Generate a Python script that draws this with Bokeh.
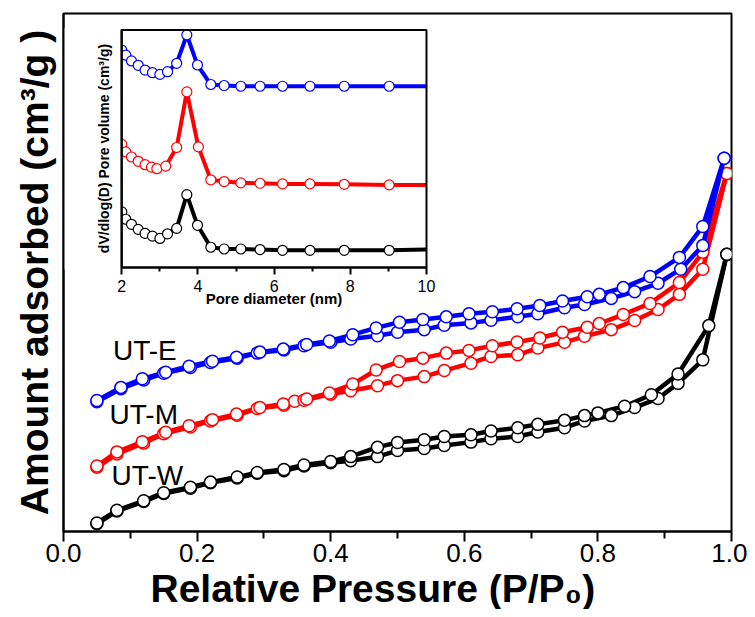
from bokeh.plotting import figure
from bokeh.models import Range1d, LinearAxis, FixedTicker, Label, Title
from bokeh.embed import file_html
from bokeh.resources import INLINE

# ---------------- main isotherm data (relative pressure, amount adsorbed a.u.) -------------
w_ads_p = [0.05, 0.08, 0.12, 0.15, 0.19, 0.22, 0.26, 0.29, 0.33, 0.36, 0.40, 0.43, 0.47, 0.50,
           0.54, 0.57, 0.61, 0.64, 0.68, 0.71, 0.75, 0.78, 0.82, 0.855, 0.89, 0.92, 0.957, 0.993]
w_ads_v = [10.7, 23.3, 32.7, 40.7, 46, 51.3, 56, 60.7, 63.3, 68, 71.3, 73.3, 77.3, 83.3,
           85.3, 88.3, 91.7, 95, 97.3, 101.7, 106, 112.7, 118, 126, 135, 150, 173.3, 278]
w_des_p = [0.993, 0.966, 0.92, 0.88, 0.84, 0.80, 0.78, 0.75, 0.71, 0.68, 0.64, 0.61, 0.57, 0.54,
           0.50, 0.47, 0.43, 0.40, 0.36, 0.33, 0.29, 0.26, 0.22, 0.19, 0.15, 0.12, 0.08, 0.05]
w_des_v = [278, 207.3, 159.3, 138.7, 127.3, 120.7, 118, 113.3, 109.3, 106, 102.7, 99, 97.3, 94,
           91.3, 86.7, 77.3, 72.5, 69, 64.5, 61.5, 57, 52, 47, 41.5, 33.5, 24, 11.5]

m_ads_p = [0.05, 0.08, 0.12, 0.15, 0.19, 0.22, 0.26, 0.29, 0.33, 0.346, 0.36, 0.40, 0.43, 0.47, 0.50,
           0.54, 0.57, 0.61, 0.64, 0.68, 0.71, 0.75, 0.78, 0.82, 0.855, 0.89, 0.922, 0.957, 0.993]
m_ads_v = [66.7, 80, 90.7, 100, 106.7, 112.7, 118.3, 125, 128.3, 132.3, 133.3, 139.3, 142.7, 147.7, 152.7,
           156.7, 162.7, 170, 176.7, 178.3, 185, 190.7, 196.7, 203.3, 212.3, 223.3, 238.3, 263.3, 358.3]
m_des_p = [0.993, 0.957, 0.922, 0.878, 0.838, 0.802, 0.784, 0.747, 0.713, 0.679, 0.642, 0.607, 0.573, 0.538,
           0.503, 0.468, 0.433, 0.398, 0.364, 0.329, 0.294, 0.259, 0.223, 0.188, 0.153, 0.118, 0.08, 0.05]
m_des_v = [358.3, 280, 250, 229.3, 218.3, 209.3, 205.7, 200.7, 195, 191, 187.3, 182.7, 180, 175,
           171.7, 163.3, 149.3, 140.5, 134.5, 129.5, 126, 119.5, 114, 108, 101.5, 92, 82, 68]

e_ads_p = [0.05, 0.086, 0.12, 0.15, 0.19, 0.22, 0.26, 0.29, 0.33, 0.36, 0.40, 0.43, 0.47, 0.50,
           0.54, 0.57, 0.61, 0.64, 0.68, 0.71, 0.75, 0.78, 0.82, 0.855, 0.89, 0.924, 0.957, 0.989]
e_ads_v = [131.7, 144.7, 153.3, 160, 165.7, 170.7, 175, 180, 183, 187.3, 190.7, 194, 197.3, 200.7,
           203.3, 207.7, 210, 212.7, 216, 219, 225, 228.3, 234.3, 241, 249.3, 263.3, 286.7, 373.3]
e_des_p = [0.989, 0.957, 0.922, 0.878, 0.838, 0.802, 0.784, 0.747, 0.713, 0.679, 0.642, 0.607, 0.573, 0.538,
           0.503, 0.468, 0.433, 0.398, 0.364, 0.329, 0.294, 0.259, 0.223, 0.188, 0.153, 0.118, 0.086, 0.05]
e_des_v = [373.3, 305.7, 275, 256, 245, 238.3, 236, 231.7, 227.3, 224, 221, 219, 216, 213.3,
           210.7, 205, 198.3, 192, 188.5, 184, 181, 176, 172, 167, 161, 154.5, 146, 133]

sample_names = ["UT-W", "UT-M", "UT-E"]
sample_colors = ["black", "red", "blue"]
label_p = [0.072, 0.069, 0.074]
label_v = [59, 119, 182.5]

x_ticks = [0.0, 0.2, 0.4, 0.6, 0.8, 1.0]
x_tick_labels = ["0.0", "0.2", "0.4", "0.6", "0.8", "1.0"]
x_minor = [0.1, 0.3, 0.5, 0.7, 0.9]

# ---------------- inset pore size distribution -------------
d_we = [2.0, 2.105, 2.254, 2.43, 2.61, 2.805, 3.0, 3.2, 3.44, 3.707, 3.987, 4.337, 4.687, 5.125,
        5.63, 6.22, 6.94, 7.84, 9.02, 10.0]
d_m = [2.0, 2.105, 2.254, 2.43, 2.61, 2.78, 2.92, 3.155, 3.44, 3.707, 4.01, 4.337, 4.687, 5.125,
       5.63, 6.22, 6.94, 7.84, 9.02, 10.0]
psd_e = [215, 210, 204.3, 200, 195.3, 192.7, 191, 193.7, 202, 230, 200.3, 181, 180, 179.3,
         179.3, 179.3, 179.3, 179.3, 179.3, 179.3]
psd_m = [121.7, 114.3, 109.3, 105, 101.7, 99.3, 97.7, 100.3, 118.7, 173.7, 119.3, 86.7, 85, 83.7,
         83.3, 82.7, 82.7, 82.3, 81.7, 81.7]
psd_w = [55, 47.7, 42.7, 37.7, 33.7, 31, 28.7, 33.3, 38.7, 72, 41.7, 20, 18.3, 18.3,
         17.7, 17, 17, 17, 17, 17.7]
inset_ticks = [2, 4, 6, 8, 10]
inset_minor = [3, 5, 7, 9]
inset_x = (2, 10)
inset_y = (0, 235)

FONT = "Liberation Sans"

p = figure(width=747, height=609, output_backend="svg", toolbar_location=None,
           x_range=Range1d(0, 1), y_range=Range1d(3, 517),
           min_border_left=63, min_border_right=16, min_border_top=13, min_border_bottom=10)
p.background_fill_color = "white"
p.border_fill_color = "white"
p.outline_line_color = "black"
p.outline_line_width = 2
p.grid.visible = False

# main axes
xa = p.xaxis[0]
xa.ticker = FixedTicker(ticks=x_ticks, minor_ticks=x_minor)
xa.major_label_overrides = {t: s for t, s in zip(x_ticks, x_tick_labels)}
xa.axis_line_width = 2
xa.major_tick_line_width = 2
xa.minor_tick_line_width = 2
xa.major_tick_in = 0
xa.major_tick_out = 10
xa.minor_tick_in = 0
xa.minor_tick_out = 7
xa.major_label_text_font = FONT
xa.major_label_text_font_size = "26px"
xa.major_label_text_color = "black"
xa.major_label_standoff = 2

p.add_layout(Title(text="Relative Pressure (P/P\u2080)", align="left", offset=87, standoff=0,
                   text_font=FONT, text_font_style="bold", text_font_size="39px",
                   text_color="black"), "below")

ya = p.yaxis[0]
ya.ticker = FixedTicker(ticks=[])
ya.axis_line_width = 2
ya.major_tick_out = 0
ya.minor_tick_out = 0
ya.major_label_text_font_size = "0px"
ya.axis_label = "Amount adsorbed (cm\u00b3/g )"
ya.axis_label_text_font = FONT
ya.axis_label_text_font_style = "bold"
ya.axis_label_text_font_size = "39px"
ya.axis_label_text_color = "black"
ya.axis_label_standoff = 8

# isotherms
series = [(w_ads_p, w_ads_v, w_des_p, w_des_v), (m_ads_p, m_ads_v, m_des_p, m_des_v),
          (e_ads_p, e_ads_v, e_des_p, e_des_v)]
for (ap, av, dp, dv), col in zip(series, sample_colors):
    p.line(ap, av, line_color=col, line_width=4.5)
    p.line(dp, dv, line_color=col, line_width=4.5)
    p.scatter(ap, av, size=12, marker="circle", fill_color="white", line_color=col, line_width=1.5)
    p.scatter(dp, dv, size=12, marker="circle", fill_color="white", line_color=col, line_width=1.5)

for name, lx, ly in zip(sample_names, label_p, label_v):
    p.add_layout(Label(x=lx, y=ly, text=name, text_font=FONT, text_font_size="28px",
                       text_color="black", text_align="left", text_baseline="middle"))

# ---------------- inset placed inside the main frame -------------
fx0, fx1 = 0.0873, 0.5434      # fraction of frame width
fy0, fy1 = 0.5097, 0.9683      # fraction of frame height
span_x = (inset_x[1] - inset_x[0]) / (fx1 - fx0)
span_y = (inset_y[1] - inset_y[0]) / (fy1 - fy0)
ixs = inset_x[0] - fx0 * span_x
iys = inset_y[0] - fy0 * span_y
p.extra_x_ranges = {"ix": Range1d(ixs, ixs + span_x)}
p.extra_y_ranges = {"iy": Range1d(iys, iys + span_y)}

psd = [(d_we, psd_w, "black"), (d_m, psd_m, "red"), (d_we, psd_e, "blue")]
for dx, dy, col in psd:
    p.line(dx, dy, line_color=col, line_width=4, x_range_name="ix", y_range_name="iy")
    p.scatter(dx[:-1], dy[:-1], size=10, marker="circle", fill_color="white", line_color=col,
              line_width=1.2, x_range_name="ix", y_range_name="iy")

# mask half markers left of inset frame
p.quad(left=ixs, right=inset_x[0], bottom=inset_y[0] - 2, top=inset_y[1] + 2,
       fill_color="white", line_color=None, x_range_name="ix", y_range_name="iy")
p.quad(left=inset_x[0], right=inset_x[1], bottom=inset_y[0], top=inset_y[1],
       fill_color=None, line_color="black", line_width=2, x_range_name="ix", y_range_name="iy")

iax = LinearAxis(x_range_name="ix", y_range_name="iy", fixed_location=inset_y[0],
                 bounds=inset_x, ticker=FixedTicker(ticks=inset_ticks, minor_ticks=inset_minor))
iax.axis_line_width = 2
iax.major_tick_line_width = 2
iax.minor_tick_line_width = 2
iax.major_tick_in = 0
iax.major_tick_out = 7
iax.minor_tick_in = 0
iax.minor_tick_out = 4
iax.major_label_text_font = FONT
iax.major_label_text_font_size = "16px"
iax.major_label_text_color = "black"
iax.major_label_standoff = 6
iax.axis_label = "Pore diameter (nm)"
iax.axis_label_text_font = FONT
iax.axis_label_text_font_style = "bold"
iax.axis_label_text_font_size = "15px"
iax.axis_label_text_color = "black"
iax.axis_label_standoff = -6
p.add_layout(iax, "below")

iyax = LinearAxis(x_range_name="ix", y_range_name="iy", fixed_location=inset_x[0],
                  bounds=inset_y, ticker=FixedTicker(ticks=[]))
iyax.axis_line_width = 2
iyax.major_tick_out = 0
iyax.minor_tick_out = 0
iyax.major_label_text_font_size = "0px"
iyax.axis_label = "dV/dlog(D) Pore volume (cm\u00b3/g)"
iyax.axis_label_text_font = FONT
iyax.axis_label_text_font_style = "bold"
iyax.axis_label_text_font_size = "14px"
iyax.axis_label_text_color = "black"
iyax.axis_label_standoff = 10
p.add_layout(iyax, "left")

open("out.html", "w").write(file_html(p, INLINE))
